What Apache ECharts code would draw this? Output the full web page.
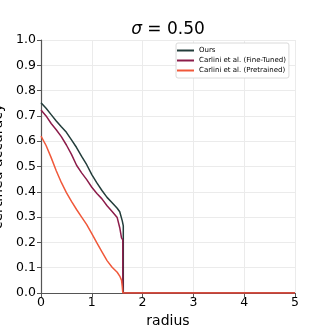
<!DOCTYPE html>
<html>
<head>
<meta charset="utf-8">
<script src="https://cdn.jsdelivr.net/npm/echarts@6/dist/echarts.min.js"></script>
<style>
  html, body { margin: 0; padding: 0; background: #fff; }
  #chart { width: 329px; height: 329px; }
</style>
</head>
<body>
<div id="chart"></div>
<script>
"use strict";

// Radius samples; the last three entries are the drop to 0
// and the flat tail out to the axis end.
const radiusOurs = [0, 0.1, 0.2, 0.3, 0.4, 0.5, 0.6, 0.7, 0.8, 0.9, 1.0, 1.1, 1.2, 1.3, 1.4, 1.5, 1.55, 1.6, 1.62, 1.62, 5];
const accOurs = [0.752, 0.73, 0.705, 0.68, 0.657, 0.635, 0.605, 0.575, 0.54, 0.507, 0.468, 0.435, 0.405, 0.378, 0.357, 0.335, 0.321, 0.285, 0.265, 0, 0];

const radiusFineTuned = [0, 0.1, 0.2, 0.3, 0.4, 0.5, 0.6, 0.7, 0.8, 0.9, 1.0, 1.1, 1.2, 1.3, 1.4, 1.5, 1.55, 1.585, 1.61, 1.61, 5];
const accFineTuned = [0.723, 0.70, 0.67, 0.645, 0.618, 0.585, 0.548, 0.505, 0.475, 0.448, 0.418, 0.393, 0.372, 0.345, 0.322, 0.298, 0.258, 0.218, 0.21, 0, 0];

const radiusPretrained = [0, 0.1, 0.2, 0.3, 0.4, 0.5, 0.6, 0.7, 0.8, 0.9, 1.0, 1.1, 1.2, 1.3, 1.4, 1.5, 1.55, 1.585, 1.6, 1.61, 5];
const accPretrained = [0.62, 0.583, 0.535, 0.483, 0.437, 0.397, 0.362, 0.33, 0.30, 0.27, 0.235, 0.198, 0.163, 0.128, 0.102, 0.082, 0.067, 0.051, 0.025, 0, 0];

const seriesNames = ["Ours", "Carlini et al. (Fine-Tuned)", "Carlini et al. (Pretrained)"];
const seriesColors = ["#233d3b", "#8c1c4a", "#f0583a"];

const xTicks = [0, 1, 2, 3, 4, 5];

const pairs = (xs, ys) => xs.map((x, i) => [x, ys[i]]);

const chart = echarts.init(document.getElementById("chart"), null, { renderer: "canvas" });

const lineSeries = [
  pairs(radiusOurs, accOurs),
  pairs(radiusFineTuned, accFineTuned),
  pairs(radiusPretrained, accPretrained),
].map((data, i) => ({
  name: seriesNames[i],
  type: "line",
  data,
  showSymbol: false,
  lineStyle: { color: seriesColors[i], width: 1.5 },
  itemStyle: { color: seriesColors[i] },
  animation: false,
  z: 2 + i,
}));

const font = "DejaVu Sans";

chart.setOption({
  backgroundColor: "#fff",
  animation: false,
  title: {
    text: "{i|σ} = 0.50",
    left: 163,
    top: 16,
    textAlign: "center",
    textStyle: {
      fontFamily: font,
      fontSize: 17,
      fontWeight: "normal",
      color: "#000",
      rich: {
        i: { fontFamily: font, fontSize: 17, fontStyle: "italic", color: "#000" },
      },
    },
  },
  legend: {
    data: seriesNames,
    orient: "vertical",
    left: 176,
    top: 43,
    padding: [4, 3, 4, 1],
    itemGap: 3,
    itemWidth: 17,
    itemHeight: 2,
    icon: "rect",
    backgroundColor: "#fff",
    borderColor: "#d0d0d0",
    borderWidth: 0.8,
    borderRadius: 2,
    textStyle: { fontFamily: font, fontSize: 7, color: "#000" },
  },
  grid: { left: 41, right: 34, top: 40, bottom: 36, containLabel: false, outerBoundsMode: "none" },
  xAxis: {
    type: "value",
    min: 0,
    max: 5,
    interval: 1,
    name: "radius",
    nameLocation: "middle",
    nameGap: 21,
    nameTextStyle: { fontFamily: font, fontSize: 14, color: "#000" },
    axisLine: { show: true, onZero: false, lineStyle: { color: "#555", width: 1.2 } },
    axisTick: { show: true, length: 4, lineStyle: { color: "#555" } },
    axisLabel: {
      fontFamily: font, fontSize: 12.5, color: "#000", margin: 3,
      formatter: (v) => (xTicks.includes(v) ? String(v) : ""),
    },
    splitLine: { show: true, lineStyle: { color: "#ebebeb", width: 1 } },
  },
  yAxis: {
    type: "value",
    min: 0,
    max: 1,
    interval: 0.1,
    name: "certified accuracy",
    nameLocation: "middle",
    nameGap: 28,
    nameTextStyle: { fontFamily: font, fontSize: 14, color: "#000" },
    axisLine: { show: true, onZero: false, lineStyle: { color: "#555", width: 1.2 } },
    axisTick: { show: true, length: 4, lineStyle: { color: "#555" } },
    axisLabel: {
      fontFamily: font, fontSize: 12.5, color: "#000", margin: 5,
      formatter: (v) => v.toFixed(1),
    },
    splitLine: { show: true, lineStyle: { color: "#ebebeb", width: 1 } },
  },
  series: lineSeries,
});
</script>
</body>
</html>
